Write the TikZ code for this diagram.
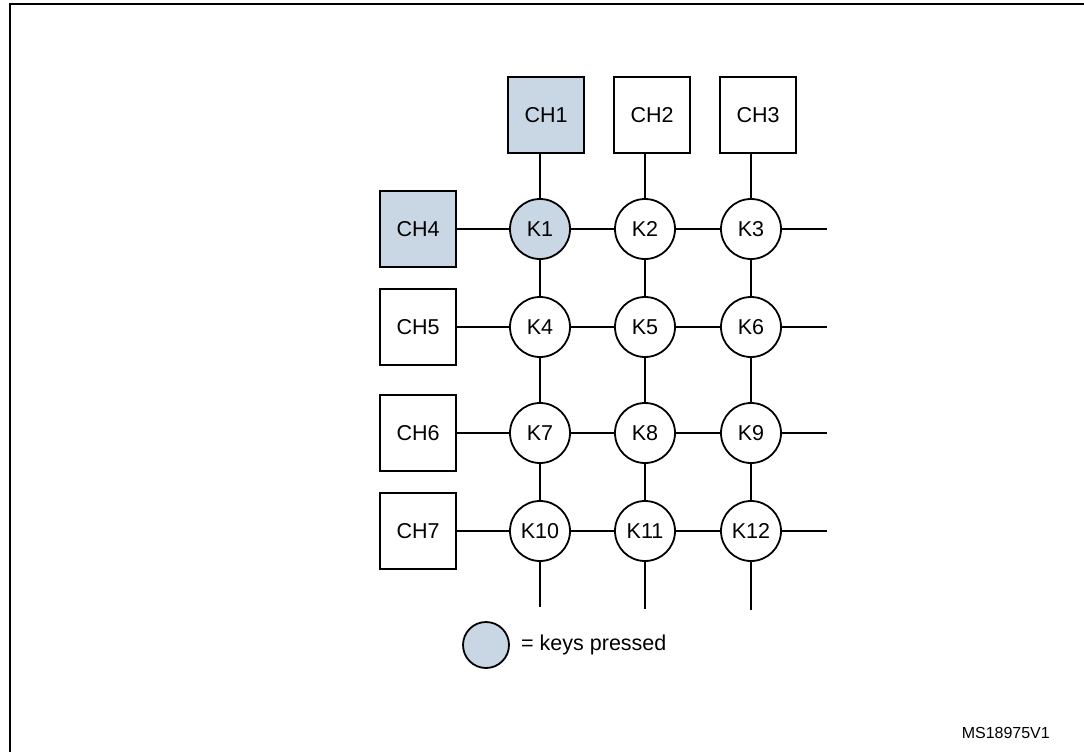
\documentclass[tikz,border=0pt]{standalone}
\usepackage{fontspec}
\setmainfont{Liberation Sans}
\definecolor{pressed}{RGB}{201,214,228}
\begin{document}
\begin{tikzpicture}[x=1pt,y=-1pt,
  chbox/.style={draw,line width=1.8pt,minimum width=76pt,minimum height=76pt,inner sep=0pt,font=\fontsize{21.5}{25}\selectfont},
  key/.style={draw,circle,line width=1.8pt,minimum size=60pt,inner sep=0pt,font=\fontsize{21.5}{25}\selectfont},
  wire/.style={line width=1.8pt},
  frame/.style={line width=2.6pt}]
\useasboundingbox (0,0) rectangle (1084,752);
\draw[frame] (10,752) -- (10,4) -- (1084,4);
% channel boxes
\node[chbox,fill=pressed] (CH1) at (546,115) {CH1};
\node[chbox] (CH2) at (652,115) {CH2};
\node[chbox] (CH3) at (758,115) {CH3};
\node[chbox,fill=pressed] (CH4) at (418,229) {CH4};
\node[chbox] (CH5) at (418,327) {CH5};
\node[chbox] (CH6) at (418,433) {CH6};
\node[chbox] (CH7) at (418,531) {CH7};
% keys
\node[key,fill=pressed] (K1) at (540,229) {K1};
\node[key] (K2) at (645,229) {K2};
\node[key] (K3) at (751,229) {K3};
\node[key] (K4) at (540,327) {K4};
\node[key] (K5) at (645,327) {K5};
\node[key] (K6) at (751,327) {K6};
\node[key] (K7) at (540,433) {K7};
\node[key] (K8) at (645,433) {K8};
\node[key] (K9) at (751,433) {K9};
\node[key] (K10) at (540,531) {K10};
\node[key] (K11) at (645,531) {K11};
\node[key] (K12) at (751,531) {K12};
% free ends
\coordinate (R1) at (827,229);
\coordinate (R2) at (827,327);
\coordinate (R3) at (827,433);
\coordinate (R4) at (827,531);
\coordinate (B1) at (540,607);
\coordinate (B2) at (645,609);
\coordinate (B3) at (751,610);
% vertical wires
\draw[wire] (K1.north |- CH1.south) -- (K1.north);
\draw[wire] (K2.north |- CH2.south) -- (K2.north);
\draw[wire] (K3.north |- CH3.south) -- (K3.north);
\draw[wire] (K1) -- (K4) -- (K7) -- (K10) -- (B1);
\draw[wire] (K2) -- (K5) -- (K8) -- (K11) -- (B2);
\draw[wire] (K3) -- (K6) -- (K9) -- (K12) -- (B3);
% horizontal wires
\draw[wire] (CH4) -- (K1) -- (K2) -- (K3) -- (R1);
\draw[wire] (CH5) -- (K4) -- (K5) -- (K6) -- (R2);
\draw[wire] (CH6) -- (K7) -- (K8) -- (K9) -- (R3);
\draw[wire] (CH7) -- (K10) -- (K11) -- (K12) -- (R4);
% legend
\node[draw,circle,line width=1.8pt,minimum size=46pt,inner sep=0pt,fill=pressed] (L) at (486,645) {};
\node[anchor=west,inner sep=0pt,font=\fontsize{21.5}{25}\selectfont] (LT) at (521,645) {= keys pressed};
\node[anchor=east,inner sep=0pt,font=\fontsize{16}{19}\selectfont] (ID) at (1050,733) {MS18975V1};
\end{tikzpicture}
\end{document}
